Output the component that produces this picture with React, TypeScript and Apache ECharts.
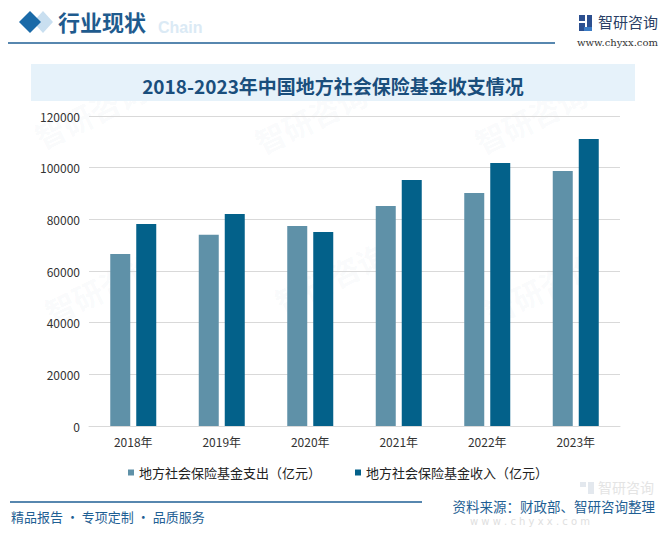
import React, { useEffect, useRef } from "react";
import * as echarts from "echarts";

const categories = ["2018年", "2019年", "2020年", "2021年", "2022年", "2023年"];
const expenditure = [66600, 74000, 77400, 85200, 90200, 98700];
const income = [78200, 82100, 75100, 95200, 101800, 111100];
const seriesNames = ["地方社会保险基金支出（亿元）", "地方社会保险基金收入（亿元）"];
const yTicks = { min: 0, max: 120000, interval: 20000 };
const titleText = "2018-2023年中国地方社会保险基金收支情况";

const FONT = "'Noto Sans CJK SC', 'Noto Sans', sans-serif";

export default function App() {
  const ref = useRef<HTMLDivElement>(null);
  useEffect(() => {
    document.body.style.margin = "0";
    const chart = echarts.init(ref.current!, undefined, { renderer: "svg" });
    const watermarks: any[] = [];
    const wmPos = [
      [30, 125], [250, 130], [470, 130], [40, 300], [270, 290], [480, 300],
    ];
    wmPos.forEach(([x, y]) => {
      watermarks.push({
        type: "text",
        x,
        y,
        rotation: Math.PI / 7,
        z: 0,
        silent: true,
        style: { text: "智研咨询", fill: "rgba(120,150,180,0.05)", font: `bold 30px ${FONT}` },
      });
    });
    chart.setOption({
      animation: false,
      textStyle: { fontFamily: FONT },
      grid: { left: 89, right: 49, top: 116, bottom: 113 },
      legend: {
        top: 461,
        left: 123,
        itemWidth: 6,
        itemHeight: 6,
        itemGap: 34,
        icon: "rect",
        textStyle: { fontSize: 13, color: "#222", fontFamily: FONT },
        data: seriesNames,
      },
      xAxis: {
        type: "category",
        data: categories,
        axisLine: { lineStyle: { color: "#d9d9d9" } },
        axisTick: { show: false },
        axisLabel: { color: "#333", fontSize: 12, margin: 9 },
      },
      yAxis: {
        type: "value",
        min: yTicks.min,
        max: yTicks.max,
        interval: yTicks.interval,
        axisLine: { show: false },
        axisTick: { show: false },
        axisLabel: { color: "#333", fontSize: 12, margin: 9, formatter: (v: number) => String(v) },
        splitLine: { lineStyle: { color: "#d9d9d9" } },
      },
      series: [
        {
          name: seriesNames[0],
          type: "bar",
          data: expenditure,
          barWidth: 20,
          barGap: "30%",
          itemStyle: { color: "#5f91a8" },
        },
        {
          name: seriesNames[1],
          type: "bar",
          data: income,
          barWidth: 20,
          itemStyle: { color: "#03618a" },
        },
      ],
      graphic: [
        ...watermarks,
        // header
        { type: "text", x: 158, y: 19, z: 1, style: { text: "Chain", fill: "#dbeaf5", font: "bold 16px 'Liberation Sans', Arial, sans-serif" } },
        { type: "polygon", z: 2, shape: { points: [[43, 11], [53, 22], [43, 33], [33, 22]] }, style: { fill: "#c9dff0" } },
        { type: "polygon", z: 3, shape: { points: [[30, 11], [41, 22], [30, 33], [19, 22]] }, style: { fill: "#1a6aa8" } },
        { type: "text", x: 58, y: 10, z: 4, style: { text: "行业现状", fill: "#1f5b8e", font: `bold 22px ${FONT}` } },
        { type: "line", z: 3, shape: { x1: 8, y1: 43, x2: 555, y2: 43 }, style: { stroke: "#1f5f94", lineWidth: 1.5 } },
        // logo
        { type: "rect", z: 3, shape: { x: 579, y: 15, width: 6, height: 6 }, style: { fill: "#2c4f8f" } },
        { type: "rect", z: 3, shape: { x: 579, y: 23, width: 6, height: 8 }, style: { fill: "#2c4f8f" } },
        { type: "rect", z: 3, shape: { x: 587, y: 15, width: 5, height: 12 }, style: { fill: "#2c4f8f" } },
        { type: "rect", z: 3, shape: { x: 584, y: 27, width: 8, height: 4 }, style: { fill: "#3b7bc4" } },
        { type: "text", x: 598, y: 14, z: 3, style: { text: "智研咨询", fill: "#2a3f66", font: `15px ${FONT}` } },
        { type: "text", x: 577, y: 37, z: 3, style: { text: "www.chyxx.com", fill: "#333", font: "10px 'DejaVu Serif', 'Liberation Serif', serif" } },
        // title box
        { type: "rect", z: 1, shape: { x: 31, y: 64, width: 604, height: 37 }, style: { fill: "#e6f2fa" } },
        { type: "text", x: 333, y: 85, z: 2, style: { text: titleText, fill: "#1a4e7c", font: `bold 19px ${FONT}`, align: "center", verticalAlign: "middle" } },
        // footer
        { type: "rect", z: 1, shape: { x: 580, y: 482, width: 6, height: 5 }, style: { fill: "#e3e8ee" } },
        { type: "rect", z: 1, shape: { x: 588, y: 482, width: 6, height: 12 }, style: { fill: "#e3e8ee" } },
        { type: "text", x: 598, y: 480, z: 1, style: { text: "智研咨询", fill: "#e4e4e4", font: `14px ${FONT}` } },
        { type: "text", x: 470, y: 516, z: 1, style: { text: "w w w . c h y x x . c o m", fill: "#e0e0e0", font: "10px 'DejaVu Sans', sans-serif" } },
        { type: "line", z: 3, shape: { x1: 10, y1: 502, x2: 422, y2: 502 }, style: { stroke: "#1f5f94", lineWidth: 1.5 } },
        { type: "text", x: 11, y: 510, z: 3, style: { text: "精品报告 · 专项定制 · 品质服务", fill: "#1f5f94", font: `13px ${FONT}` } },
        { type: "text", x: 655, y: 499, z: 3, style: { text: "资料来源：财政部、智研咨询整理", fill: "#1f5f94", font: `13.5px ${FONT}`, align: "right" } },
      ],
    });
    return () => chart.dispose();
  }, []);
  return <div ref={ref} style={{ width: 669, height: 539 }} />;
}
